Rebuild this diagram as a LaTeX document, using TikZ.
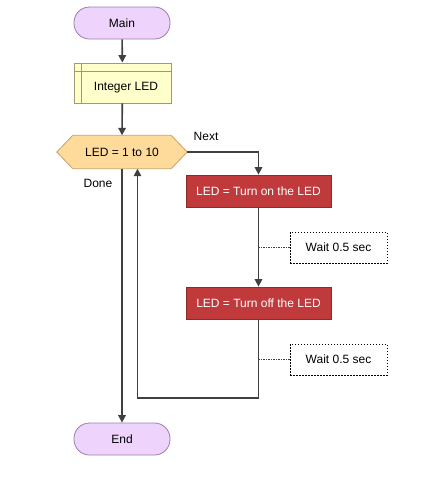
\documentclass[tikz,border=0pt]{standalone}
\usepackage{fontspec}
\setmainfont{Liberation Sans}
\usetikzlibrary{arrows.meta,calc}
\definecolor{termfill}{HTML}{EED4FD}
\definecolor{termdraw}{HTML}{9A7FAA}
\definecolor{declfill}{HTML}{FFFFCC}
\definecolor{decldraw}{HTML}{9C9C6C}
\definecolor{loopfill}{HTML}{FFDB9B}
\definecolor{loopdraw}{HTML}{C9A064}
\definecolor{redfill}{HTML}{C0393B}
\definecolor{reddraw}{HTML}{8C2A2A}
\definecolor{wire}{HTML}{404040}
\tikzset{
  every node/.style={font=\fontsize{12}{14}\selectfont, inner sep=0pt},
  term/.style={draw=termdraw, fill=termfill, line width=0.8pt, rounded corners=15.5pt, minimum width=96pt, minimum height=32pt},
  decl/.style={draw=decldraw, fill=declfill, line width=0.8pt, minimum width=97pt, minimum height=40pt},
  act/.style={draw=reddraw, fill=redfill, text=white, line width=0.8pt, minimum width=145pt, minimum height=32pt},
  note/.style={draw=black, dashed, dash pattern=on 1.5pt off 1.5pt, fill=white, line width=0.7pt, minimum width=97pt, minimum height=31pt},
  flow/.style={draw=wire, line width=1.6pt, -{Triangle[length=7.5pt,width=7.5pt]}},
  notelink/.style={draw=wire, line width=0.6pt, dash pattern=on 1.5pt off 1pt},
}
\begin{document}
\begin{tikzpicture}[x=1pt,y=-1pt]
\useasboundingbox (0,0) rectangle (432,480);
\node[term] (main) at (122,23) {Main};
\node[decl] (int) at (122.5,83) {};
\draw[decldraw, line width=0.8pt] ($(int.north west)+(8,0)$) -- ($(int.south west)+(8,0)$);
\draw[decldraw, line width=0.8pt] ($(int.north west)+(0,9)$) -- ($(int.north east)+(0,9)$);
\node (inttext) at (126,88) {Integer LED};
\node[minimum width=130pt, minimum height=33pt] (loop) at (122,152) {};
\draw[draw=loopdraw, fill=loopfill, line width=0.8pt]
  (loop.west) -- ($(loop.north west)+(16,0)$) -- ($(loop.north east)+(-16,0)$) -- (loop.east)
  -- ($(loop.south east)+(-16,0)$) -- ($(loop.south west)+(16,0)$) -- cycle;
\node (looptext) at (loop.center) {LED = 1 to 10};
\node[act] (on) at (258.5,191) {LED = Turn on the LED};
\node[act] (off) at (258.5,303) {LED = Turn off the LED};
\node[note] (w1) at (338.5,247.5) {Wait 0.5 sec};
\node[note] (w2) at (338.5,359.5) {Wait 0.5 sec};
\node[term] (end) at (122,439) {End};
\node (next) at (206,136) {Next};
\node (done) at (98,183.5) {Done};
\coordinate (back) at (137.5,398);
\draw[flow] (main) -- (int);
\draw[flow] (int) -- (loop.north);
\draw[flow] (loop.east) -| (on.north);
\draw[flow] (on) -- (off);
\draw[notelink] (w1.west) -- (w1.west -| on.south);
\draw[notelink] (w2.west) -- (w2.west -| off.south);
\draw[flow] (off.south) |- (back) -- (back |- loop.south);
\draw[flow] (loop.south) -- (end.north);
\end{tikzpicture}
\end{document}
